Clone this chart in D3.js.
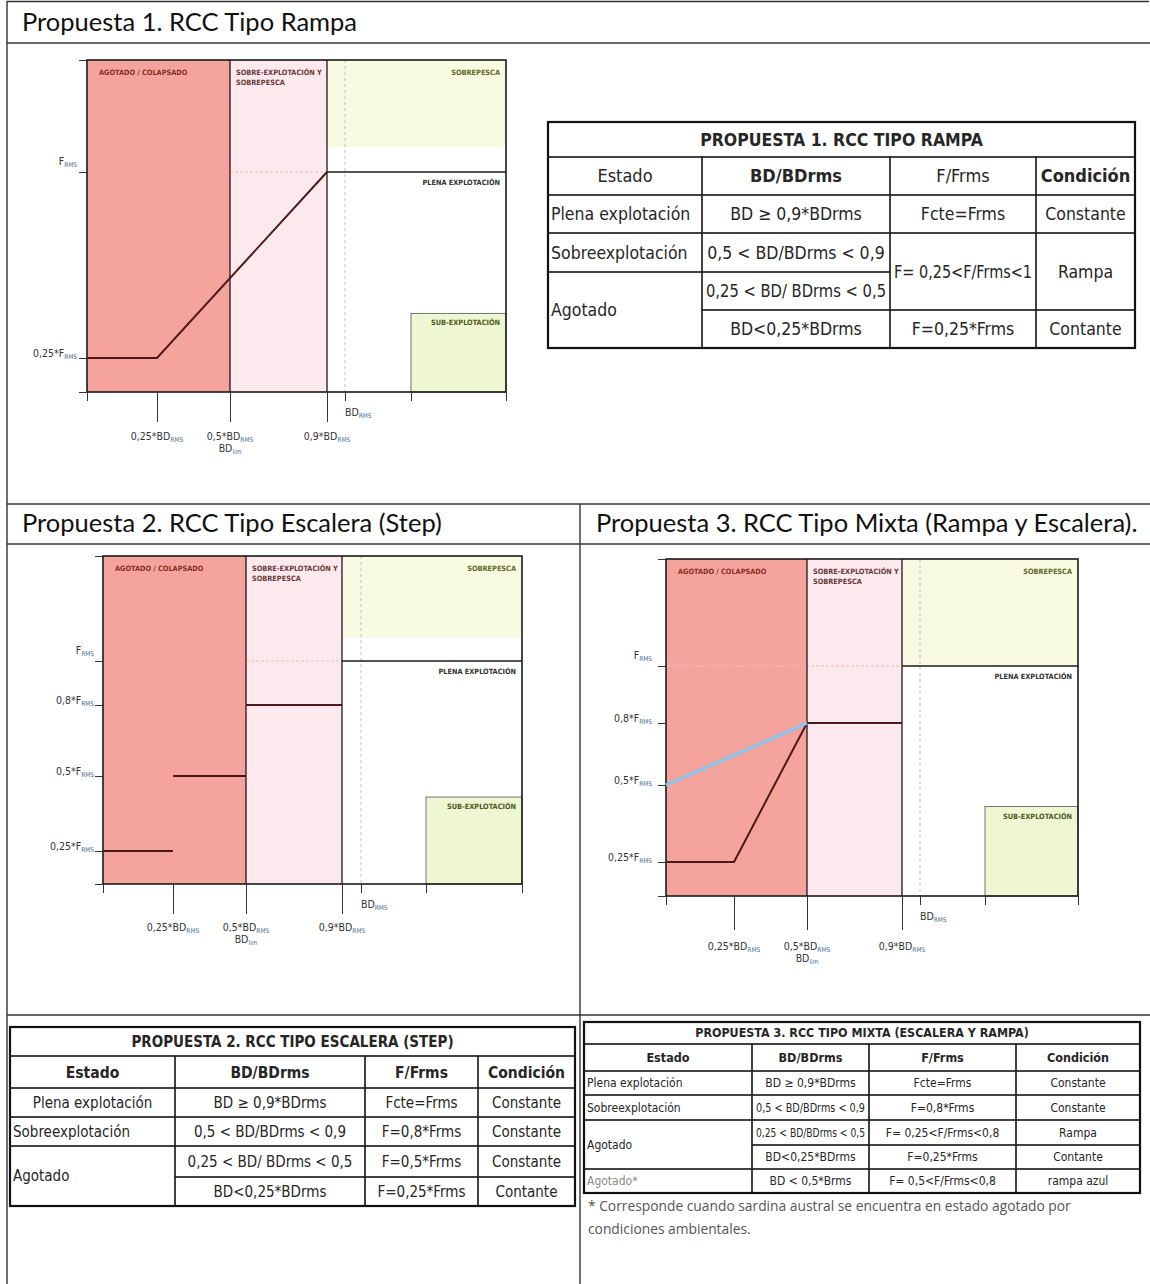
<!DOCTYPE html>
<html>
<head>
<meta charset="utf-8">
<script src="https://cdn.jsdelivr.net/npm/d3@7"></script>
<style>
  body { margin: 0; background: #fff; }
  svg { display: block; }
</style>
</head>
<body>
<svg id="page" width="1150" height="1284"></svg>
<script>
// ---------- data ----------
// schematic axes: BD/BDrms (x) and F/Frms (y)
var xStops = [0, 0.25, 0.5, 0.9, 1, 1.3, 1.8];
var yStops = [0, 0.25, 0.5, 0.8, 1, 1.5];

var zoneNames = ["AGOTADO / COLAPSADO", "SOBRE-EXPLOTACIÓN Y|SOBREPESCA", "SOBREPESCA", "PLENA EXPLOTACIÓN", "SUB-EXPLOTACIÓN"];
var zoneBD = [[0, 0.5], [0.5, 0.9], [0.9, 1.8], [0.9, 1.8], [1.3, 1.8]];
var zoneF = [[0, 1.5], [0, 1.5], [1.11, 1.5], [0, 1], [0, 0.43]];

var xLongTicks = [0.25, 0.5, 0.9];
var xShortTicks = [0, 1, 1.3, 1.8];
var xTickLabels = ["0,25*BD", "0,5*BD", "0,9*BD"];

var yTickLabels = {0.25: "0,25*F", 0.5: "0,5*F", 0.8: "0,8*F", 1: "F"};

// RCC lines (BD/BDrms, F/Frms)
var rampaRCC = [[0, 0.25], [0.25, 0.25], [0.9, 1]];
var escaleraRCC = [
  [[0, 0.25], [0.25, 0.25]],
  [[0.25, 0.5], [0.5, 0.5]],
  [[0.5, 0.8], [0.9, 0.8]]
];
var mixtaRCC = [[0, 0.25], [0.25, 0.25], [0.5, 0.8], [0.9, 0.8]];
var mixtaAzul = [[0, 0.5], [0.5, 0.8]];
var frmsLine = [[0.9, 1], [1.8, 1]];

// tables
var tableHeader = ["Estado", "BD/BDrms", "F/Frms", "Condición"];
var t1Rows = [
  ["Plena explotación", "BD ≥ 0,9*BDrms", "Fcte=Frms", "Constante"],
  ["Sobreexplotación", "0,5 < BD/BDrms < 0,9", "F= 0,25<F/Frms<1", "Rampa"],
  ["Agotado", "0,25 < BD/ BDrms < 0,5", null, null],
  [null, "BD<0,25*BDrms", "F=0,25*Frms", "Contante"]
];
var t2Rows = [
  ["Plena explotación", "BD ≥ 0,9*BDrms", "Fcte=Frms", "Constante"],
  ["Sobreexplotación", "0,5 < BD/BDrms < 0,9", "F=0,8*Frms", "Constante"],
  ["Agotado", "0,25 < BD/ BDrms < 0,5", "F=0,5*Frms", "Constante"],
  [null, "BD<0,25*BDrms", "F=0,25*Frms", "Contante"]
];
var t3Rows = [
  ["Plena explotación", "BD ≥ 0,9*BDrms", "Fcte=Frms", "Constante"],
  ["Sobreexplotación", "0,5 < BD/BDrms < 0,9", "F=0,8*Frms", "Constante"],
  ["Agotado", "0,25 < BD/BDrms < 0,5", "F= 0,25<F/Frms<0,8", "Rampa"],
  [null, "BD<0,25*BDrms", "F=0,25*Frms", "Contante"],
  ["Agotado*", "BD < 0,5*Brms", "F= 0,5<F/Frms<0,8", "rampa azul"]
];
var footnote = ["* Corresponde cuando sardina austral se encuentra en estado agotado por", "condiciones ambientales."];

// ---------- page ----------
var svg = d3.select("#page");
var headFont = "Lato, 'Open Sans', sans-serif";
var narrow = "'Liberation Sans Narrow', 'DejaVu Sans Condensed', 'Roboto', sans-serif";
var ink = "#262626";

// squeeze a text node into maxW when the font runs wider than the cell
function fit(t, maxW) {
  var w = t.node().getComputedTextLength();
  if (w > maxW) t.attr("textLength", maxW).attr("lengthAdjust", "spacingAndGlyphs");
  return t;
}

// frame lines of the document
var frame = svg.append("g").attr("stroke", "#333").attr("stroke-width", 1.4);
frame.append("line").attr("x1", 7).attr("x2", 7).attr("y1", 1).attr("y2", 1284);
frame.append("line").attr("x1", 7).attr("x2", 1149).attr("y1", 1.5).attr("y2", 1.5);
frame.append("line").attr("x1", 7).attr("x2", 1150).attr("y1", 43).attr("y2", 43);
frame.append("line").attr("x1", 7).attr("x2", 1150).attr("y1", 504).attr("y2", 504);
frame.append("line").attr("x1", 7).attr("x2", 1150).attr("y1", 544).attr("y2", 544);
frame.append("line").attr("x1", 7).attr("x2", 1150).attr("y1", 1015).attr("y2", 1015);
frame.append("line").attr("x1", 580).attr("x2", 580).attr("y1", 504).attr("y2", 1284);

function heading(txt, x, y) {
  svg.append("text").attr("x", x).attr("y", y)
    .attr("font-family", headFont).attr("font-size", 25.5).attr("fill", "#111")
    .text(txt);
}
heading("Propuesta 1. RCC Tipo Rampa", 22, 31);
heading("Propuesta 2. RCC Tipo Escalera (Step)", 22, 532);
heading("Propuesta 3. RCC Tipo Mixta (Rampa y Escalera).", 596, 532);

// ---------- charts ----------
var zoneFill = ["#f4a49d", "#fce9ee", "#f9fae2", "none", "#eff6d2"];
var zoneInk = ["#8b2e22", "#6a3a3a", "#5f6a28", "#333", "#4d5a1e"];

function subLabel(sel, main, sub, size) {
  sel.append("tspan").text(main);
  sel.append("tspan").attr("font-size", size * 0.62).attr("dy", 2).attr("fill", "#4d6d8e").text(sub);
}

function drawChart(c) {
  var x = d3.scaleLinear().domain(xStops).range(c.xr);
  var y = d3.scaleLinear().domain(c.yDom).range(c.yr);
  var g = svg.append("g").attr("transform", "translate(" + c.left + "," + c.top + ")");
  var W = x(1.8), H = y(0), top = y(1.5);

  // zones
  zoneNames.forEach(function(name, i) {
    var fLo = (i === 2) ? c.pescaFloor : zoneF[i][0];
    if (zoneFill[i] !== "none") {
      g.append("rect")
        .attr("x", x(zoneBD[i][0])).attr("y", y(zoneF[i][1]))
        .attr("width", x(zoneBD[i][1]) - x(zoneBD[i][0]))
        .attr("height", y(fLo) - y(zoneF[i][1]))
        .attr("fill", zoneFill[i])
        .attr("stroke", i === 4 ? "#555" : "none").attr("stroke-width", 0.8);
    }
  });

  // faint pink Frms line through the overfished zones
  g.append("line").attr("x1", x(c.pinkFrom)).attr("x2", x(0.9)).attr("y1", y(1)).attr("y2", y(1))
    .attr("stroke", "#f1b7bf").attr("stroke-width", 1.2).attr("stroke-dasharray", "3,2");

  // dashed BDrms reference
  g.append("line").attr("x1", x(1)).attr("x2", x(1)).attr("y1", top).attr("y2", H)
    .attr("stroke", "#bdbdbd").attr("stroke-width", 1).attr("stroke-dasharray", "3,3");

  // zone borders
  [0.5, 0.9].forEach(function(v) {
    g.append("line").attr("x1", x(v)).attr("x2", x(v)).attr("y1", top).attr("y2", H)
      .attr("stroke", "#1a1a1a").attr("stroke-width", 1.3);
  });
  g.append("rect").attr("x", 0).attr("y", top).attr("width", W).attr("height", H - top)
    .attr("fill", "none").attr("stroke", "#1a1a1a").attr("stroke-width", 1.6);

  // zone labels
  function zl(txt, xx, yy, anchor, col) {
    g.append("text").attr("x", xx).attr("y", yy).attr("text-anchor", anchor).attr("fill", col)
      .attr("font-family", narrow).attr("font-size", 7.3).attr("font-weight", "bold").text(txt);
  }
  zl(zoneNames[0], x(0) + 12, top + 15, "start", zoneInk[0]);
  zoneNames[1].split("|").forEach(function(s, j) { zl(s, x(0.5) + 6, top + 15 + j * 10, "start", zoneInk[1]); });
  zl(zoneNames[2], W - 6, top + 15, "end", zoneInk[2]);
  zl(zoneNames[3], W - 6, y(1) + 13, "end", zoneInk[3]);
  zl(zoneNames[4], W - 6, y(0.43) + 12, "end", zoneInk[4]);

  // axes
  var axL = d3.axisLeft(y).tickValues(c.yTicks).tickSize(8).tickFormat("").tickSizeOuter(0);
  g.append("g").call(axL).call(function(s) { s.select(".domain").remove(); s.selectAll("line").attr("stroke", "#333"); });
  var axB1 = d3.axisBottom(x).tickValues(xLongTicks).tickSize(c.longTick).tickFormat("").tickSizeOuter(0);
  g.append("g").attr("transform", "translate(0," + H + ")").call(axB1)
    .call(function(s) { s.select(".domain").remove(); s.selectAll("line").attr("stroke", "#333"); });
  var axB2 = d3.axisBottom(x).tickValues(xShortTicks).tickSize(9).tickFormat("").tickSizeOuter(0);
  g.append("g").attr("transform", "translate(0," + H + ")").call(axB2)
    .call(function(s) { s.select(".domain").remove(); s.selectAll("line").attr("stroke", "#333"); });

  // tick labels
  var ts = 10.5;
  c.yTicks.forEach(function(v) {
    if (!(v in yTickLabels)) return;
    var t = g.append("text").attr("x", -c.yLabGap).attr("y", y(v) + (v === 1 ? -7 : -1))
      .attr("text-anchor", "end").attr("font-family", narrow).attr("font-size", ts).attr("fill", "#333");
    subLabel(t, yTickLabels[v], "RMS", ts);
  });
  xLongTicks.forEach(function(v, i) {
    var t = g.append("text").attr("x", x(v)).attr("y", H + c.xLabY)
      .attr("text-anchor", "middle").attr("font-family", narrow).attr("font-size", ts).attr("fill", "#333");
    subLabel(t, xTickLabels[i], "RMS", ts);
  });
  var lim = g.append("text").attr("x", x(0.5)).attr("y", H + c.xLabY + 12)
    .attr("text-anchor", "middle").attr("font-family", narrow).attr("font-size", ts).attr("fill", "#333");
  subLabel(lim, "BD", "lim", ts);
  var rms = g.append("text").attr("x", x(1)).attr("y", H + 24)
    .attr("text-anchor", "start").attr("font-family", narrow).attr("font-size", ts).attr("fill", "#333");
  subLabel(rms, "BD", "RMS", ts);

  // RCC lines
  var line = d3.line().x(function(d) { return x(d[0]); }).y(function(d) { return y(d[1]); });
  g.append("path").datum(frmsLine).attr("d", line).attr("fill", "none").attr("stroke", "#1a1a1a").attr("stroke-width", 1.6);
  c.rcc.forEach(function(seg) {
    g.append("path").datum(seg).attr("d", line).attr("fill", "none")
      .attr("stroke", "#4f1717").attr("stroke-width", 2);
  });
  if (c.blue) {
    g.append("path").datum(c.blue).attr("d", line).attr("fill", "none")
      .attr("stroke", "#8ec3ea").attr("stroke-width", 3.5);
  }
}

drawChart({
  left: 87, top: 60, xr: [0, 70, 143, 240, 258, 324, 419],
  yDom: [0, 0.25, 1, 1.5], yr: [332, 298, 112, 0], yTicks: [0, 0.25, 1, 1.5],
  pescaFloor: 1.11, pinkFrom: 0.5, longTick: 30, xLabY: 48, yLabGap: 10,
  rcc: [rampaRCC]
});
drawChart({
  left: 103, top: 556, xr: [0, 70, 143, 239, 258, 323, 419],
  yDom: yStops, yr: [328, 295, 220, 149, 105, 0], yTicks: [0, 0.25, 0.5, 0.8, 1, 1.5],
  pescaFloor: 1.11, pinkFrom: 0.5, longTick: 30, xLabY: 47, yLabGap: 9,
  rcc: escaleraRCC
});
drawChart({
  left: 666, top: 559, xr: [0, 68, 141, 236, 254, 319, 412],
  yDom: yStops, yr: [337, 303, 226, 164, 107, 0], yTicks: [0, 0.25, 0.5, 0.8, 1, 1.5],
  pescaFloor: 1, pinkFrom: 0, longTick: 34, xLabY: 54, yLabGap: 14,
  rcc: [mixtaRCC], blue: mixtaAzul
});

// ---------- tables ----------
function drawTable(t) {
  var g = svg.append("g");
  var C = t.cols, R = t.rows;
  function cell(r0, r1, c0, c1, txt, opt) {
    g.append("rect").attr("x", C[c0]).attr("y", R[r0]).attr("width", C[c1] - C[c0]).attr("height", R[r1] - R[r0])
      .attr("fill", "none").attr("stroke", "#1e1e1e").attr("stroke-width", 1.2);
    var left = opt.align === "start";
    var tx = g.append("text")
      .attr("x", left ? C[c0] + 3 : (C[c0] + C[c1]) / 2)
      .attr("y", (R[r0] + R[r1]) / 2)
      .attr("dy", "0.36em")
      .attr("text-anchor", left ? "start" : "middle")
      .attr("font-family", narrow).attr("font-size", opt.size)
      .attr("font-weight", opt.weight || "normal")
      .attr("fill", opt.color || ink)
      .text(txt);
    fit(tx, C[c1] - C[c0] - 8);
  }
  cell(0, 1, 0, 4, t.title, {size: t.titleSize, weight: "bold"});
  tableHeader.forEach(function(h, j) { cell(1, 2, j, j + 1, h, {size: t.headSize, weight: t.headWeight[j]}); });
  t.data.forEach(function(row, i) {
    row.forEach(function(v, j) {
      if (v === null) return;
      var span = 1;
      while (i + span < t.data.length && t.data[i + span][j] === null) span++;
      cell(i + 2, i + 2 + span, j, j + 1, v, {
        size: t.size,
        align: j === 0 ? t.col0Align[i] : "middle",
        color: (t.grey && t.grey[i] && j === 0) ? "#8a8a8a" : ink
      });
    });
  });
  g.append("rect").attr("x", C[0]).attr("y", R[0]).attr("width", C[4] - C[0]).attr("height", R[R.length - 1] - R[0])
    .attr("fill", "none").attr("stroke", "#111").attr("stroke-width", 2.2);
}

drawTable({
  title: "PROPUESTA 1. RCC TIPO RAMPA", data: t1Rows,
  cols: [548, 702, 890, 1036, 1135], rows: [122, 157, 195, 233, 272, 310, 348],
  titleSize: 17.5, headSize: 18, size: 17.5, headWeight: ["normal", "bold", "normal", "bold"],
  col0Align: ["start", "start", "start", "start"]
});
drawTable({
  title: "PROPUESTA 2. RCC TIPO ESCALERA (STEP)", data: t2Rows,
  cols: [10, 175, 365, 478, 575], rows: [1027, 1056, 1088, 1117, 1146, 1177, 1206],
  titleSize: 15, headSize: 15.5, size: 15, headWeight: ["bold", "bold", "bold", "bold"],
  col0Align: ["middle", "start", "start", "start"]
});
drawTable({
  title: "PROPUESTA 3. RCC TIPO MIXTA (ESCALERA Y RAMPA)", data: t3Rows,
  cols: [584, 752, 869, 1016, 1140], rows: [1022, 1044, 1071, 1095, 1120, 1145, 1169, 1193],
  titleSize: 12.4, headSize: 12.5, size: 12, headWeight: ["bold", "bold", "bold", "bold"],
  col0Align: ["start", "start", "start", "start", "start"], grey: [false, false, false, false, true]
});

footnote.forEach(function(s, i) {
  svg.append("text").attr("x", 588).attr("y", 1211 + i * 23)
    .attr("font-family", "'Open Sans', sans-serif").attr("font-size", 13.8).attr("fill", "#555")
    .text(s);
});
</script>
</body>
</html>
